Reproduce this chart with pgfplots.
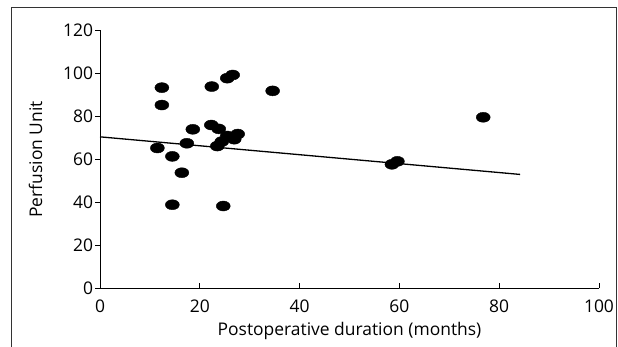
\documentclass[border=0pt]{standalone}
\usepackage{fontspec}
\setmainfont{Open Sans}
\usepackage{pgfplots}
\pgfplotsset{compat=1.18}
\begin{document}
\begin{tikzpicture}
\begin{axis}[
  at={(100bp,58.7bp)}, anchor=south west,
  scale only axis,
  width=499bp, height=257.8bp,
  xmin=0, xmax=100, ymin=0, ymax=120,
  axis x line*=bottom, axis y line*=left,
  axis line style={-, line width=0.9bp, black},
  xtick={0,20,...,100}, ytick={0,20,...,120},
  tick align=outside,
  major tick length=5bp,
  xtick style={line width=0.8bp, black, yshift=5bp},
  ytick style={line width=0.8bp, black},
  /pgf/number format/assume math mode=true,
  ticklabel style={font=\fontsize{17.5}{20}\selectfont},
  xticklabel style={yshift=-3bp},
  yticklabel style={xshift=1.5bp},
  label style={font=\fontsize{17.5}{20}\selectfont},
  xlabel={Postoperative duration (months)},
  ylabel={Perfusion Unit},
  xlabel style={at={(axis description cs:0.5,-0.1823)}, anchor=base},
  ylabel style={at={(axis description cs:-0.1162,0.5)}, anchor=base},
  clip=false,
]
\addplot[only marks, mark=*, mark size=5bp, mark options={xscale=1.4, fill=black, draw=black}] coordinates {
(12.4,93.4) (12.4,85.3) (22.4,93.9) (25.5,97.8) (26.6,99.3) (34.6,91.9)
(18.6,74.0) (22.3,76.0) (23.8,74.2) (17.4,67.5) (11.5,65.3) (14.5,61.4)
(16.4,53.8) (14.5,38.9) (24.7,38.3) (23.5,66.2) (24.4,68.3) (25.5,70.9)
(26.9,69.4) (27.6,71.8) (58.5,57.7) (59.6,59.1) (76.8,79.6)
};
\addplot[black, line width=1.3bp, no marks] coordinates {(0,70.5) (84.2,53.0)};
\end{axis}
\draw[gray!40!black, line width=1bp] (11bp,-20bp) -- (11bp,339bp) -- (616bp,339bp) -- (616bp,-20bp);
\pgfresetboundingbox
\path (0,0) rectangle (618bp,347bp);
\end{tikzpicture}
\end{document}
